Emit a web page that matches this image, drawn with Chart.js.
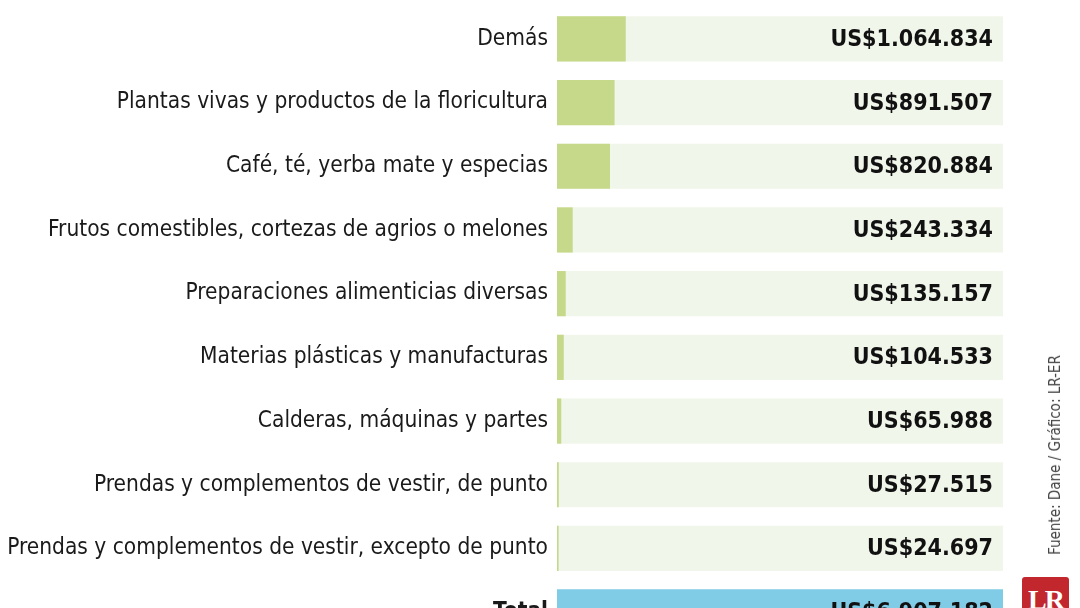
<!DOCTYPE html>
<html>
<head>
<meta charset="utf-8">
<script src="https://cdn.jsdelivr.net/npm/chart.js@4.4.1/dist/chart.umd.min.js"></script>
<style>
  html, body { margin: 0; padding: 0; background: #fff; overflow: hidden; }
  #wrap { position: relative; width: 1080px; height: 608px; overflow: hidden; }
  #chart { position: absolute; left: 0; top: 0; }
  #source {
    position: absolute; left: 1055px; top: 455px;
    transform: translate(-50%, -50%) rotate(-90deg);
    white-space: nowrap;
    font-family: "DejaVu Sans Condensed", sans-serif;
    font-size: 15px; color: #444;
  }
  #logo {
    position: absolute; left: 1022px; top: 577px; width: 47px; height: 45px;
    background: #c1272d; border-radius: 3px;
    color: #fff; font-family: "Liberation Serif", serif; font-weight: bold;
    font-size: 28px; text-align: center; line-height: 46px; letter-spacing: -2px;
  }
</style>
</head>
<body>
<div id="wrap">
  <canvas id="chart" width="1080" height="650"></canvas>
  <div id="source">Fuente: Dane / Gráfico: LR-ER</div>
  <div id="logo">LR</div>
</div>
<script>
const categories = [
  'Demás',
  'Plantas vivas y productos de la floricultura',
  'Café, té, yerba mate y especias',
  'Frutos comestibles, cortezas de agrios o melones',
  'Preparaciones alimenticias diversas',
  'Materias plásticas y manufacturas',
  'Calderas, máquinas y partes',
  'Prendas y complementos de vestir, de punto',
  'Prendas y complementos de vestir, excepto de punto',
  'Total'
];
const values = [1064834, 891507, 820884, 243334, 135157, 104533, 65988, 27515, 24697, 6907182];
const total = 6907182;

const GREEN = '#c6d98a';
const TRACK = '#f1f6ea';
const BLUE = '#80cbe5';
const FONT = '"DejaVu Sans Condensed", sans-serif';

const isTotal = i => categories[i] === 'Total';
const fmt = v => 'US$' + String(v).replace(/\B(?=(\d{3})+(?!\d))/g, '.');

// amounts drawn right-aligned inside each track
const valueLabels = {
  id: 'valueLabels',
  afterDatasetsDraw(chart) {
    const { ctx, chartArea } = chart;
    const yScale = chart.scales.y;
    ctx.save();
    ctx.font = 'bold 23px ' + FONT;
    ctx.fillStyle = '#111';
    ctx.textAlign = 'right';
    ctx.textBaseline = 'middle';
    values.forEach((v, i) => {
      ctx.fillText(fmt(v), chartArea.right - 10, yScale.getPixelForValue(i) + 1);
    });
    ctx.restore();
  }
};

new Chart(document.getElementById('chart'), {
  type: 'bar',
  data: {
    labels: categories,
    datasets: [
      {
        data: values,
        backgroundColor: values.map((v, i) => isTotal(i) ? BLUE : GREEN),
        barPercentage: 0.71,
        categoryPercentage: 1,
        grouped: false,
        order: 0
      },
      {
        data: categories.map(() => total),
        backgroundColor: categories.map((c, i) => isTotal(i) ? BLUE : TRACK),
        barPercentage: 0.71,
        categoryPercentage: 1,
        grouped: false,
        order: 1
      }
    ]
  },
  options: {
    indexAxis: 'y',
    responsive: false,
    animation: false,
    layout: { padding: { top: 7, right: 77, bottom: 6, left: 0 } },
    plugins: { legend: { display: false }, tooltip: { enabled: false } },
    scales: {
      x: { display: false, min: 0, max: total },
      y: {
        grid: { display: false, drawTicks: false },
        border: { display: false },
        afterFit: scale => {
          scale.width = 557;
          scale.paddingTop = 0;
          scale.paddingBottom = 0;
        },
        ticks: {
          padding: 9,
          color: '#1a1a1a',
          font: ctx => ({
            family: FONT,
            size: 22.5,
            weight: isTotal(ctx.index) ? 'bold' : 'normal'
          })
        }
      }
    }
  },
  plugins: [valueLabels]
});
</script>
</body>
</html>
